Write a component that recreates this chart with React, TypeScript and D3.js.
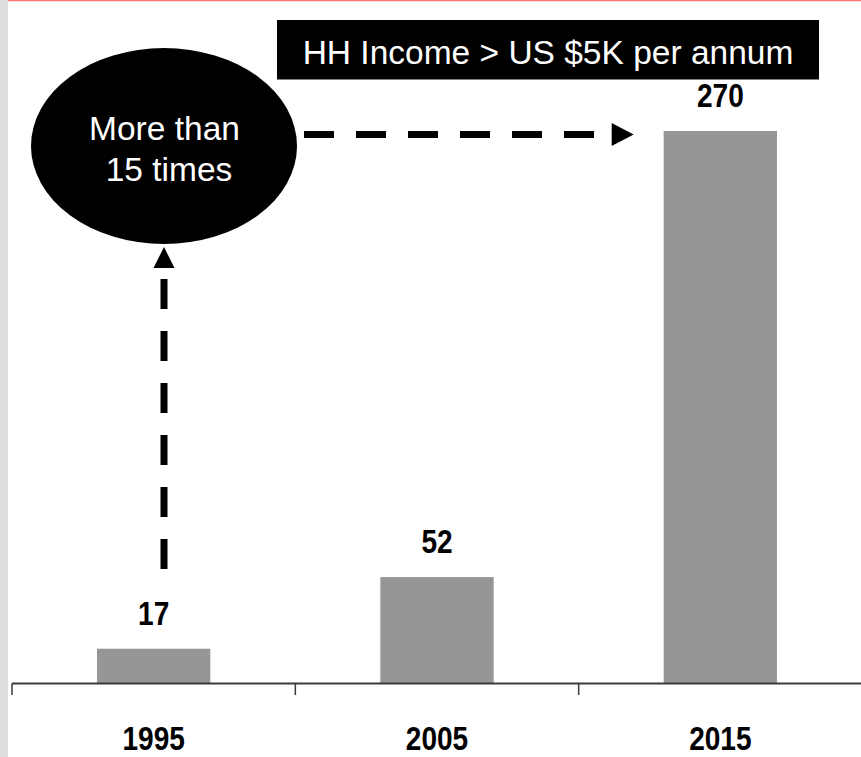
import React from "react";
import * as d3 from "d3";

// ---- data ----
const categories: string[] = ["1995", "2005", "2015"];
const values: number[] = [17, 52, 270];
const valueLabels: string[] = ["17", "52", "270"];
const title = "HH Income > US $5K per annum";
const calloutLines: string[] = ["More than", "15 times"];

const W = 861;
const H = 757;
const FONT = "'Liberation Sans', Arial, Helvetica, sans-serif";

export default function App() {
  const x = d3
    .scaleBand<string>()
    .domain(categories)
    .range([12, 862])
    .paddingInner(0.6)
    .paddingOuter(0.3);
  const baseY = 683.5;
  const y = d3.scaleLinear().domain([0, 270]).range([baseY, 131]);
  const step = x.step();
  const boundaries = d3.range(categories.length + 1).map((i) => 12 + i * step);

  // callout geometry
  const ell = { cx: 164, cy: 146, rx: 133, ry: 98 };
  const vx = ell.cx;
  const vTop = 247;
  const vBottom = 569;
  const hy = 134.5;
  const hStart = 304;
  const hTip = x("2015")! - 30;

  const condensed = (cx: number, by: number) => `translate(${cx},${by}) scale(0.85,1)`;

  return (
    <svg
      width={W}
      height={H}
      viewBox={`0 0 ${W} ${H}`}
      style={{ position: "fixed", left: 0, top: 0, background: "#fff" }}
    >
      <rect x={0} y={0} width={W} height={H} fill="#ffffff" />
      <rect x={0} y={0} width={8} height={H} fill="#dedede" />
      <line x1={8} x2={W} y1={0.5} y2={0.5} stroke="#ff7373" strokeWidth={1.5} />

      {/* bars */}
      {categories.map((c, i) => (
        <rect
          key={c}
          x={x(c)!}
          y={y(values[i])}
          width={x.bandwidth()}
          height={baseY - y(values[i])}
          fill="#969696"
        />
      ))}

      {/* value labels */}
      {categories.map((c, i) => (
        <text
          key={c}
          transform={condensed(x(c)! + x.bandwidth() / 2, y(values[i]) - 24)}
          textAnchor="middle"
          fontFamily={FONT}
          fontWeight="bold"
          fontSize={33}
          fill="#000"
        >
          {valueLabels[i]}
        </text>
      ))}

      {/* axis */}
      <line x1={12} x2={W} y1={baseY} y2={baseY} stroke="#3a3a3a" strokeWidth={2} />
      {boundaries.map((bx, i) => (
        <line key={i} x1={bx} x2={bx} y1={baseY} y2={695} stroke="#3a3a3a" strokeWidth={1.5} />
      ))}
      {categories.map((c) => (
        <text
          key={c}
          transform={condensed(x(c)! + x.bandwidth() / 2, 750)}
          textAnchor="middle"
          fontFamily={FONT}
          fontWeight="bold"
          fontSize={33}
          fill="#000"
        >
          {c}
        </text>
      ))}

      {/* title box */}
      <rect x={277} y={20} width={542} height={59.5} fill="#000" />
      <text x={548} y={64} textAnchor="middle" fontFamily={FONT} fontSize={33.5} fill="#fff">
        {title}
      </text>

      {/* callout ellipse */}
      <ellipse cx={ell.cx} cy={ell.cy} rx={ell.rx} ry={ell.ry} fill="#000" />
      <text x={164.5} y={140} textAnchor="middle" fontFamily={FONT} fontSize={33.5} fill="#fff">
        {calloutLines[0]}
      </text>
      <text x={169} y={180.5} textAnchor="middle" fontFamily={FONT} fontSize={33.5} fill="#fff">
        {calloutLines[1]}
      </text>

      {/* vertical dashed arrow */}
      <line
        x1={vx}
        x2={vx}
        y1={vBottom}
        y2={279}
        stroke="#000"
        strokeWidth={7}
        strokeDasharray="30 22"
      />
      <polygon
        points={`${vx},${vTop} ${vx - 10.5},${vTop + 21} ${vx + 10.5},${vTop + 21}`}
        fill="#000"
      />

      {/* horizontal dashed arrow */}
      <line
        x1={hStart}
        x2={594}
        y1={hy}
        y2={hy}
        stroke="#000"
        strokeWidth={7}
        strokeDasharray="30 22"
      />
      <polygon
        points={`${hTip},${hy} ${hTip - 22},${hy - 11.5} ${hTip - 22},${hy + 11.5}`}
        fill="#000"
      />
    </svg>
  );
}
